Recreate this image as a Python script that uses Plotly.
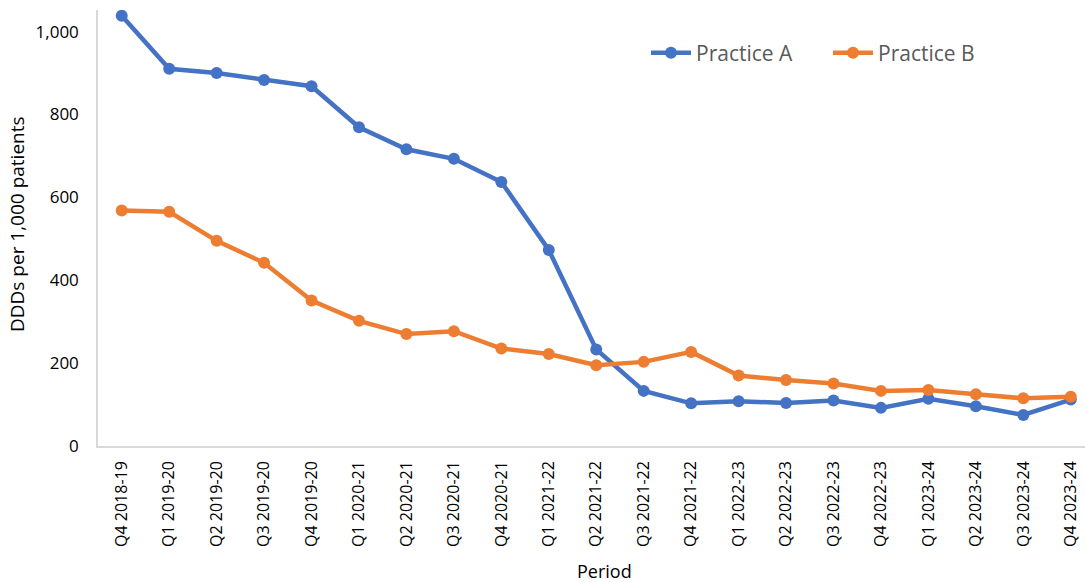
import plotly.graph_objects as go

# Quarterly periods on the category axis
periods = [
    "Q4 2018-19", "Q1 2019-20", "Q2 2019-20", "Q3 2019-20", "Q4 2019-20",
    "Q1 2020-21", "Q2 2020-21", "Q3 2020-21", "Q4 2020-21", "Q1 2021-22",
    "Q2 2021-22", "Q3 2021-22", "Q4 2021-22", "Q1 2022-23", "Q2 2022-23",
    "Q3 2022-23", "Q4 2022-23", "Q1 2023-24", "Q2 2023-24", "Q3 2023-24",
    "Q4 2023-24",
]

# DDDs per 1,000 patients for each practice
practice_a = [1038, 910, 900, 883, 868, 769, 716, 693, 637, 473,
              233, 133, 103, 108, 104, 110, 92, 114, 96, 75, 112]
practice_b = [568, 565, 495, 442, 351, 302, 270, 277, 235, 222,
              195, 203, 227, 170, 159, 151, 133, 135, 125, 115, 119]

y_ticks = [0, 200, 400, 600, 800, 1000]

W, H = 1085, 582
ML, MR, MT, MB = 98, 0, 10, 136

BLUE = "#4472C4"
ORANGE = "#ED7D31"
AXIS_GREY = "#D9D9D9"
FONT = "Open Sans"

fig = go.Figure()
fig.add_trace(go.Scatter(
    x=periods, y=practice_a, name="Practice A", mode="lines+markers",
    line=dict(color=BLUE, width=4.5), marker=dict(color=BLUE, size=12),
))
fig.add_trace(go.Scatter(
    x=periods, y=practice_b, name="Practice B", mode="lines+markers",
    line=dict(color=ORANGE, width=4.5), marker=dict(color=ORANGE, size=12),
))

plot_w = W - ML - MR
plot_h = H - MT - MB

fig.update_layout(
    width=W, height=H,
    margin=dict(l=ML, r=MR, t=MT, b=MB),
    paper_bgcolor="white", plot_bgcolor="white",
    font=dict(family=FONT, color="#000000", size=16),
    showlegend=True,
    legend=dict(
        orientation="h",
        x=(646 - ML) / plot_w, xanchor="left",
        y=1 - (53 - MT) / plot_h, yanchor="middle",
        font=dict(family=FONT, size=21, color="#595959"),
        bgcolor="rgba(0,0,0,0)",
        itemwidth=40,
        entrywidth=127,
    ),
    xaxis=dict(
        type="category",
        range=[-0.5, 20.3],
        tickangle=-90,
        tickfont=dict(family=FONT, size=16, color="#000000"),
        showgrid=False, zeroline=False,
        showline=True, linecolor=AXIS_GREY, linewidth=1.5,
        ticks="", ticklen=0,
        ticklabelstandoff=7,
    ),
    yaxis=dict(
        range=[0, 1052],
        tickvals=y_ticks,
        tickformat=",d",
        tickfont=dict(family=FONT, size=17, color="#000000"),
        showgrid=False, zeroline=False,
        showline=True, linecolor=AXIS_GREY, linewidth=1.5,
        ticks="", ticklen=0,
        ticklabelstandoff=14,
    ),
)

# y-axis title, rotated, left of the tick labels
fig.add_annotation(
    text="DDDs per 1,000 patients", xref="paper", yref="paper",
    x=-(ML - 17) / plot_w, y=1 - (224 - MT) / plot_h,
    xanchor="center", yanchor="middle", textangle=-90, showarrow=False,
    font=dict(family=FONT, size=19, color="#000000"),
)

# x-axis title placed below the rotated tick labels
fig.add_annotation(
    text="Period", xref="paper", yref="paper",
    x=(604 - ML) / plot_w, y=-(571 - (H - MB)) / plot_h,
    xanchor="center", yanchor="middle", showarrow=False,
    font=dict(family=FONT, size=18, color="#000000"),
)

fig.write_html("out.html")
